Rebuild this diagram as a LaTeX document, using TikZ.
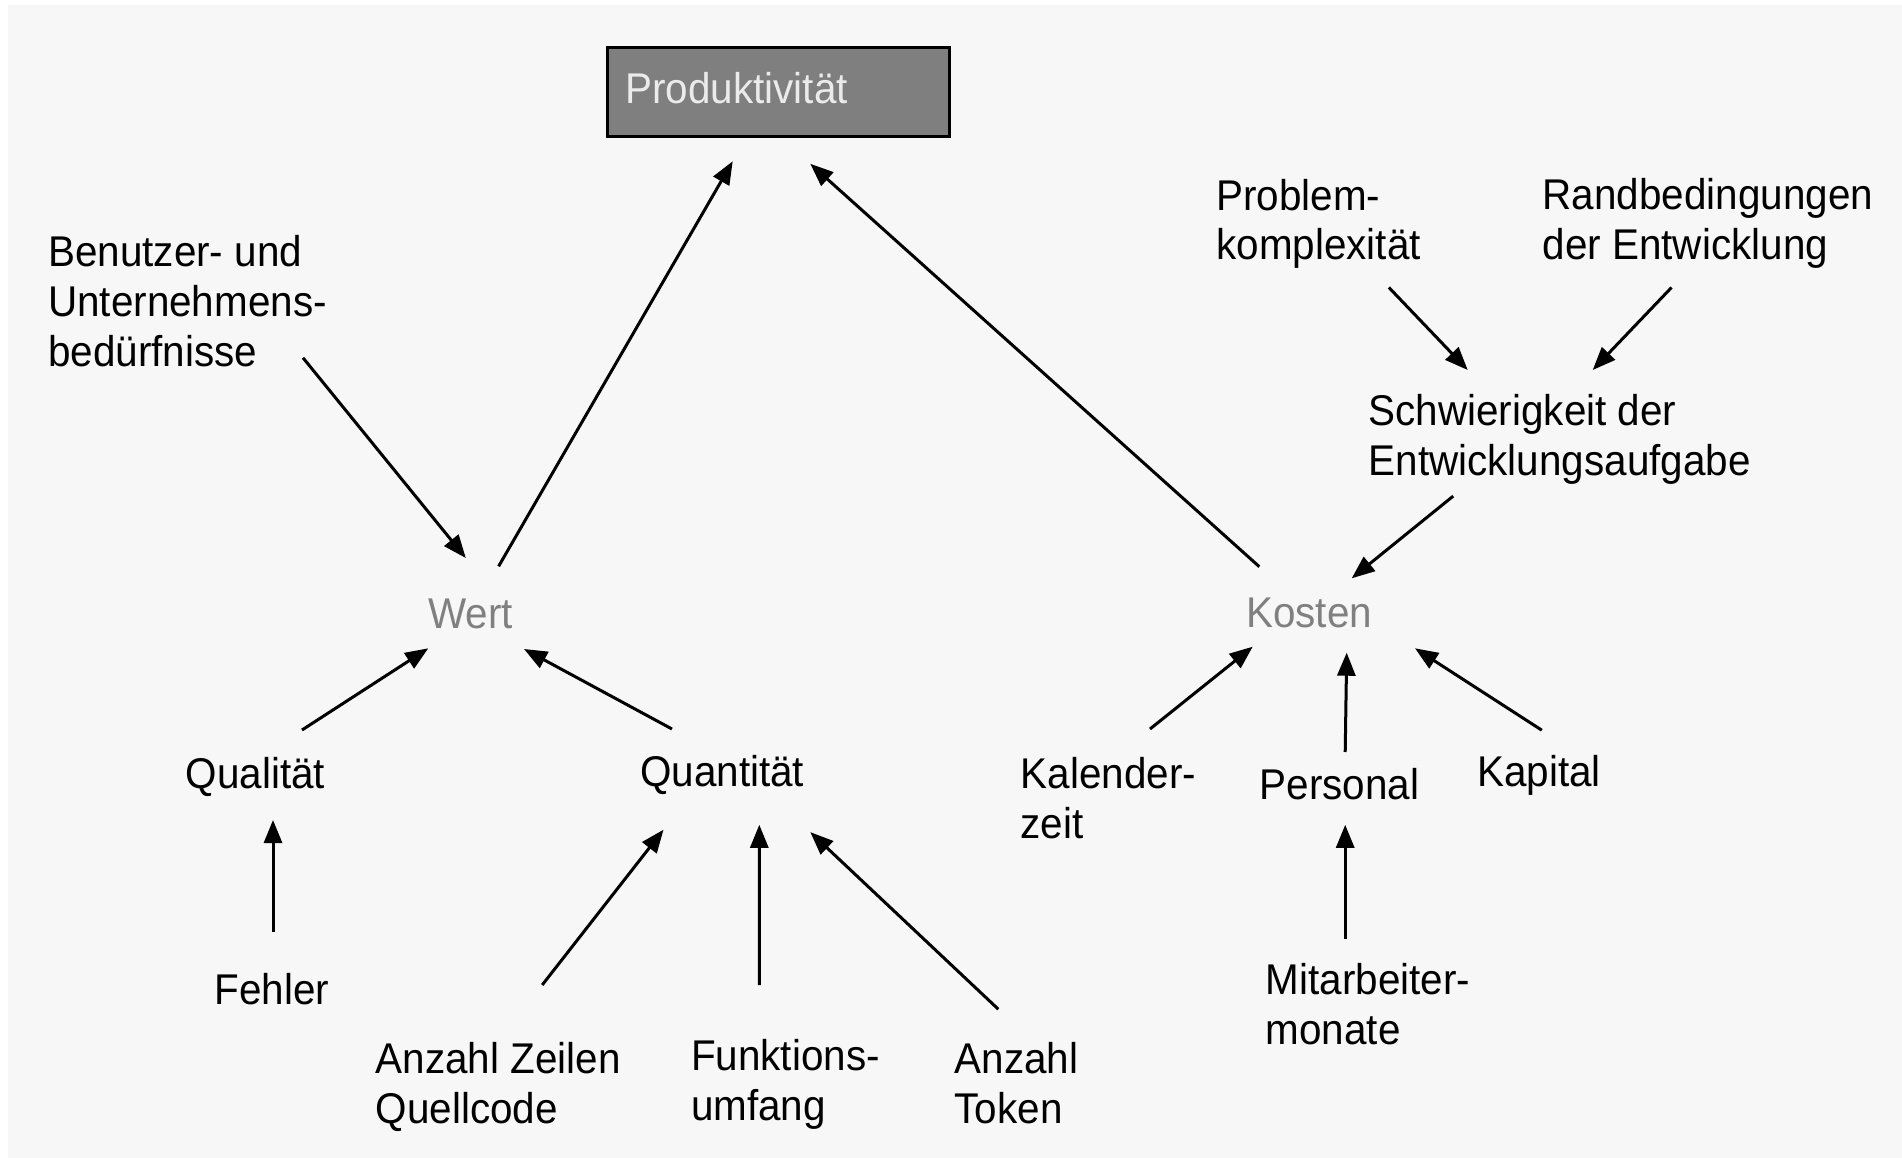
\documentclass[tikz,border=0pt]{standalone}
\usepackage{fontspec}
\setmainfont{Liberation Sans}[FakeStretch=0.94]
\usetikzlibrary{arrows.meta}
\definecolor{bgcol}{HTML}{F7F7F7}
\definecolor{boxfill}{HTML}{7F7F7F}
\definecolor{boxtext}{HTML}{EBEBEB}
\definecolor{midtext}{HTML}{808080}
\begin{document}
\begin{tikzpicture}[x=1pt,y=-1pt,
  every node/.style={font=\fontsize{43pt}{50pt}\selectfont},
  % labels are placed at the baseline of their last line
  label/.style={anchor=base west, inner sep=0pt, align=left},
  midlabel/.style={label, text=midtext},
  headbox/.style={draw=black, line width=3pt, fill=boxfill, text=boxtext,
    minimum width=342pt, minimum height=89pt, inner xsep=18pt,
    text width=306pt, align=left, text height=31pt, text depth=6.4pt},
  link/.style={line width=3pt, -{Triangle[length=23pt,width=18pt]}}]

% canvas
\useasboundingbox (0,0) rectangle (1902,1158);
\fill[bgcol] (8,5) rectangle (1902,1158);

% top box
\node[headbox] (prod) at (778.5,91.7) {Produktivität};

% value side
\node[label] (need) at (48,366.7) {Benutzer- und\\Unternehmens-\\bedürfnisse};
\node[midlabel] (wert) at (428,628.3) {Wert};
\node[label] (qual) at (185.5,788) {Qualität};
\node[label] (quant) at (640,786) {Quantität};
\node[label] (fehler) at (214.2,1004) {Fehler};
\node[label] (zeilen) at (375.5,1123.5) {Anzahl Zeilen\\Quellcode};
\node[label] (funk) at (690.9,1120) {Funktions-\\umfang};
\node[label] (token) at (954.5,1123.5) {Anzahl\\Token};

% cost side
\node[label] (problem) at (1216.1,260) {Problem-\\komplexität};
\node[label] (rand) at (1542.5,259) {Randbedingungen\\der Entwicklung};
\node[label] (schwier) at (1368.5,475) {Schwierigkeit der\\Entwicklungsaufgabe};
\node[midlabel] (kosten) at (1246,627.3) {Kosten};
\node[label] (kal) at (1020.5,838.5) {Kalender-\\zeit};
\node[label] (pers) at (1259.5,799) {Personal};
\node[label] (kap) at (1477,786) {Kapital};
\node[label] (mitarb) at (1265.5,1044.7) {Mitarbeiter-\\monate};

% connectors
\draw[link] ([shift={(70.6,-62)}]wert.base west) -- ([shift={(-45.8,69.6)}]prod.center);
\draw[link] ([shift={(13.3,-60.6)}]kosten.base west) -- ([shift={(31.8,72.1)}]prod.center);
\draw[link] ([shift={(255,-8.9)}]need.base west) -- ([shift={(37.8,-70.3)}]wert.base west);
\draw[link] ([shift={(116.5,-58)}]qual.base west) -- ([shift={(0.3,20)}]wert.base west);
\draw[link] ([shift={(32,-57)}]quant.base west) -- ([shift={(96,20.7)}]wert.base west);
\draw[link] ([shift={(58.8,-72.4)}]fehler.base west) -- ([shift={(87.5,32)}]qual.base west);
\draw[link] ([shift={(166.7,-138.5)}]zeilen.base west) -- ([shift={(23.5,43.7)}]quant.base west);
\draw[link] ([shift={(68.4,-135)}]funk.base west) -- ([shift={(119.3,38.8)}]quant.base west);
\draw[link] ([shift={(43.8,-114.3)}]token.base west) -- ([shift={(170.3,46.1)}]quant.base west);
\draw[link] ([shift={(172.8,27.5)}]problem.base west) -- ([shift={(99.2,-105)}]schwier.base west);
\draw[link] ([shift={(129,28.5)}]rand.base west) -- ([shift={(224.2,-105)}]schwier.base west);
\draw[link] ([shift={(84.7,21.1)}]schwier.base west) -- ([shift={(105.7,-49)}]kosten.base west);
\draw[link] ([shift={(129.5,-109.5)}]kal.base west) -- ([shift={(6.7,19.4)}]kosten.base west);
\draw[link] ([shift={(85.7,-47)}]pers.base west) -- ([shift={(100.7,25.4)}]kosten.base west);
\draw[link] ([shift={(64.8,-55.8)}]kap.base west) -- ([shift={(169,21)}]kosten.base west);
\draw[link] ([shift={(79.7,-105.8)}]mitarb.base west) -- ([shift={(85.7,25.8)}]pers.base west);
\end{tikzpicture}
\end{document}
